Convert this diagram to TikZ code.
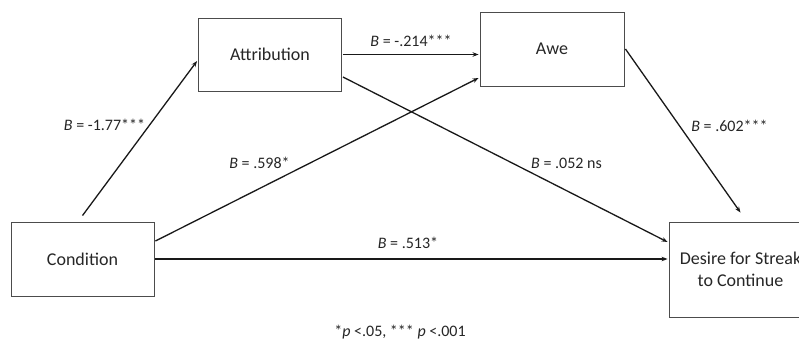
\documentclass[tikz,border=0pt]{standalone}
\usepackage{fontspec}
\setmainfont{Carlito}
\usetikzlibrary{arrows.meta}
\begin{document}
\begin{tikzpicture}[x=1pt,y=-1pt,
  box/.style={draw=black!70,line width=0.9pt,fill=white,inner sep=0pt,align=center,
    font=\fontsize{18}{22}\selectfont,text=black!85},
  conn/.style={line width=1.3pt,draw=black!90,-{Stealth[length=6pt,width=4.5pt]}},
  lab/.style={font=\fontsize{16}{19}\selectfont,text=black!85,inner sep=0pt}]
\useasboundingbox (0,0) rectangle (799,339);
\clip (0,0) rectangle (799,339);
\fill[white] (0,0) rectangle (799,339);
\node[box,minimum width=143pt,minimum height=73pt] (attr) at (270,54.5) {Attribution};
\node[box,minimum width=144pt,minimum height=74pt] (awe) at (552,49) {Awe};
\node[box,minimum width=143pt,minimum height=74pt] (cond) at (82.5,259) {Condition};
\node[box,minimum width=143pt,minimum height=95pt] (des) at (740.5,269.5) {Desire for Streak\\to Continue};
\coordinate (c1) at ([yshift=6pt]cond.north);
\coordinate (c2) at ([yshift=-6.5pt]attr.west);
\draw[conn] (c1) -- ([xshift=-1pt]c2);
\draw[conn] ([xshift=1pt]attr.east) -- ([xshift=-1pt]attr.east -| awe.west);
\draw[conn] ([xshift=1pt,yshift=-22.5pt]attr.east) -- ([xshift=-1pt,yshift=27.5pt]des.west);
\draw[conn] ([xshift=1pt,yshift=18pt]cond.east) -- ([xshift=-1pt,yshift=-29pt]awe.west);
\draw[conn] ([xshift=1pt]awe.east) -- ([yshift=9pt]des.north);
\draw[conn] ([xshift=1pt]cond.east) -- ([xshift=-1pt]cond.east -| des.west);
\node[lab] (l1) at (104.5,125) {\textit{B} = -1.77***};
\node[lab] (l2) at (411,41) {\textit{B} = -.214***};
\node[lab] (l3) at (259.5,163) {\textit{B} = .598*};
\node[lab] (l4) at (566.5,163) {\textit{B} = .052 ns};
\node[lab] (l5) at (729.5,126) {\textit{B} = .602***};
\node[lab] (l6) at (408,243) {\textit{B} = .513*};
\node[lab] (l7) at (400,332) {*\textit{p} <.05, *** \textit{p} <.001};
\end{tikzpicture}
\end{document}
